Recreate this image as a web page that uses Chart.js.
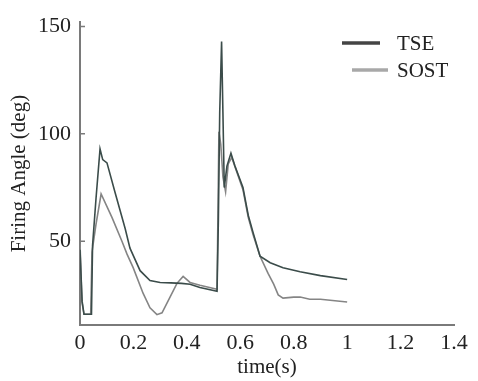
<!DOCTYPE html>
<html>
<head>
<meta charset="utf-8">
<script src="https://cdn.jsdelivr.net/npm/chart.js@4"></script>
<style>
  html, body { margin: 0; padding: 0; background: #fff; }
  #wrap { width: 478px; height: 381px; }
</style>
</head>
<body>
<div id="wrap"><canvas id="angleChart"></canvas></div>
<script>
// firing angle response, time in seconds
const tseTime  = [0, 0.008, 0.015, 0.043, 0.047, 0.06, 0.075, 0.085, 0.101, 0.131, 0.169, 0.187, 0.225, 0.262, 0.3, 0.34, 0.38, 0.412, 0.449, 0.513,
                  0.518, 0.523, 0.53, 0.535, 0.54, 0.55, 0.565, 0.58, 0.61, 0.63, 0.648, 0.674, 0.712, 0.76, 0.824, 0.9, 1.0];
const tseAngle = [46, 22, 16, 16, 48, 70, 93, 88, 86.5, 72.8, 55.9, 46.8, 36.3, 31.7, 30.8, 30.6, 30.4, 30, 28.5, 26.7,
                  60, 110, 143, 110, 75, 85, 91, 85, 75, 62, 54, 43, 40, 37.7, 35.8, 34, 32.2];

const sostTime  = [0, 0.007, 0.015, 0.04, 0.045, 0.06, 0.079, 0.12, 0.157, 0.176, 0.199, 0.236, 0.262, 0.288, 0.307, 0.337, 0.363, 0.386, 0.412, 0.449, 0.513,
                   0.52, 0.527, 0.535, 0.545, 0.555, 0.568, 0.585, 0.61, 0.63, 0.648, 0.674, 0.704, 0.725, 0.742, 0.76, 0.8, 0.824, 0.86, 0.9, 1.0];
const sostAngle = [49, 22, 16, 16, 45, 58, 72, 61, 50, 44, 37.7, 25.8, 19, 15.8, 16.7, 24, 30.4, 33.6, 30.8, 29.5, 27.6,
                   101, 95, 80, 73, 86, 89, 83, 74, 61, 53, 43, 35, 30, 25, 23.5, 24, 24, 23, 23, 21.7];

const xTicks = [0, 0.2, 0.4, 0.6, 0.8, 1, 1.2, 1.4];
const yTicks = [50, 100, 150];

const serif = 'Liberation Serif, Times New Roman, serif';
const axisGrey = '#7a7a7a';

function toPoints(xs, ys) {
  return xs.map((x, i) => ({ x: x, y: ys[i] }));
}

// legend drawn in the upper right corner of the plot
const cornerLegend = {
  id: 'cornerLegend',
  afterDraw(chart) {
    const ctx = chart.ctx;
    const rows = [
      { ds: chart.data.datasets[0], x0: 342, x1: 380, y: 43, color: '#444' },
      { ds: chart.data.datasets[1], x0: 352, x1: 388, y: 70, color: '#a8a8a8' }
    ];
    ctx.save();
    ctx.font = '21px ' + serif;
    ctx.textBaseline = 'middle';
    rows.forEach(r => {
      ctx.strokeStyle = r.color;
      ctx.lineWidth = 3.5;
      ctx.beginPath();
      ctx.moveTo(r.x0, r.y);
      ctx.lineTo(r.x1, r.y);
      ctx.stroke();
      ctx.fillStyle = '#222';
      ctx.fillText(r.ds.label, 397, r.y + 1);
    });
    ctx.restore();
  }
};

// short tick marks pointing into the plot
const innerTicks = {
  id: 'innerTicks',
  afterDraw(chart) {
    const { ctx, chartArea, scales } = chart;
    ctx.save();
    ctx.strokeStyle = axisGrey;
    ctx.lineWidth = 1.5;
    ctx.beginPath();
    yTicks.forEach(v => {
      const y = scales.y.getPixelForValue(v);
      ctx.moveTo(chartArea.left, y);
      ctx.lineTo(chartArea.left + 5, y);
    });
    ctx.stroke();
    ctx.restore();
  }
};

new Chart(document.getElementById('angleChart'), {
  type: 'line',
  data: {
    datasets: [
      {
        label: 'TSE',
        data: toPoints(tseTime, tseAngle),
        borderColor: '#3b4c4a',
        borderWidth: 1.6,
        pointRadius: 0,
        tension: 0
      },
      {
        label: 'SOST',
        data: toPoints(sostTime, sostAngle),
        borderColor: '#858585',
        borderWidth: 1.6,
        pointRadius: 0,
        tension: 0
      }
    ]
  },
  options: {
    responsive: true,
    maintainAspectRatio: false,
    animation: false,
    layout: { padding: { top: 16, right: 24, bottom: 0, left: 0 } },
    plugins: {
      legend: { display: false },
      tooltip: { enabled: false }
    },
    scales: {
      x: {
        type: 'linear',
        min: 0,
        max: 1.4,
        afterBuildTicks: s => { s.ticks = xTicks.map(v => ({ value: v })); },
        afterFit: s => { s.height = 56; },
        grid: { display: true, drawOnChartArea: false, drawTicks: false },
        border: { color: axisGrey, width: 2 },
        ticks: {
          color: '#222',
          padding: 5,
          maxRotation: 0,
          font: { family: serif, size: 22 },
          callback: v => String(v)
        },
        title: {
          display: true,
          text: 'time(s)',
          color: '#222',
          padding: { top: 0, bottom: 1 },
          font: { family: serif, size: 21 }
        }
      },
      y: {
        min: 11,
        max: 152,
        afterBuildTicks: s => { s.ticks = yTicks.map(v => ({ value: v })); },
        afterFit: s => { s.width = 80; },
        grid: { display: true, drawOnChartArea: false, drawTicks: false },
        border: { color: axisGrey, width: 2 },
        ticks: { color: '#222', padding: 9, font: { family: serif, size: 22 } },
        title: {
          display: true,
          text: 'Firing Angle (deg)',
          color: '#222',
          padding: { top: 7, bottom: 0 },
          font: { family: serif, size: 21 }
        }
      }
    }
  },
  plugins: [cornerLegend, innerTicks]
});
</script>
</body>
</html>
